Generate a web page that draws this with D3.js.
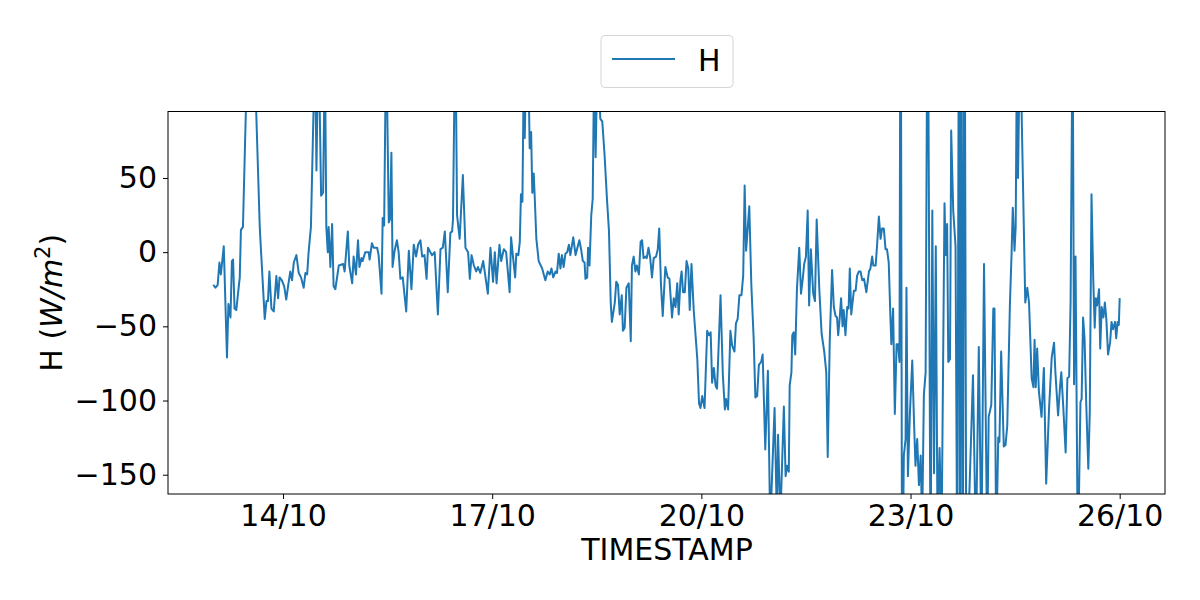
<!DOCTYPE html>
<html>
<head>
<meta charset="utf-8">
<script src="https://cdn.jsdelivr.net/npm/d3@7"></script>
<style>
  body { margin: 0; background: #fff; }
  text { font-family: "DejaVu Sans", sans-serif; fill: #000; }
</style>
</head>
<body>
<div id="chart"></div>
<script>
// hours since 13/10 00:00 and the H value read at that point (W/m2)
var hours = [0,0.7,1.5,2.1,2.6,3.6,4.7,5.2,5.9,6.4,6.8,7.3,7.9,9.1,9.5,10.2,12.8,16.0,17.7,18.3,18.8,19.3,20.0,20.8,21.7,22.3,22.8,23.6,
  24.4,25.1,25.8,26.5,27.1,27.7,28.6,29.4,30.2,31.1,31.7,32.3,32.8,33.6,35.0,35.5,36.2,37.1,37.8,38.4,38.9,39.4,39.7,40.3,40.9,41.4,42.0,43.2,
  44.7,45.2,46.3,46.8,47.8,48.3,49.1,49.8,50.3,51.0,51.4,52.3,53.5,53.8,54.6,55.2,56.4,56.9,57.9,58.3,58.8,59.5,60.4,60.8,61.3,61.7,62.4,
  63.2,63.8,64.4,65.2,66.4,67.3,68.2,69.0,69.8,70.5,71.3,71.9,72.7,73.4,73.9,74.7,75.3,76.2,77.3,78.2,79.0,79.7,80.7,81.6,82.2,82.5,83.3,
  83.9,84.8,85.9,86.8,87.7,88.3,88.9,89.7,90.5,91.1,91.9,92.9,94.5,95.4,96.3,96.9,97.5,98.5,99.1,100.0,100.8,102.0,102.5,103.2,103.9,104.3,
  105.0,105.5,105.9,106.4,106.9,107.2,107.8,108.5,108.9,109.4,109.8,110.3,110.6,111.2,112.0,113.2,114.3,115.1,115.8,116.4,117.0,117.8,
  118.3,118.9,119.5,120.0,120.6,121.2,121.8,122.4,122.9,123.9,124.7,125.2,126.0,126.6,127.2,127.8,128.1,128.7,129.0,129.5,130.1,130.6,
  131.1,131.6,132.3,133.2,133.9,134.7,135.5,136.2,136.8,137.2,138.2,138.7,139.3,139.9,140.6,141.0,141.6,142.2,143.0,143.7,144.1,144.7,
  145.3,145.8,146.5,147.1,147.6,148.1,148.8,149.2,149.8,150.4,151.0,151.6,152.4,153.0,153.5,154.1,154.7,155.6,156.4,157.0,157.9,158.5,
  159.1,159.7,160.2,160.8,161.2,161.7,162.3,162.9,163.5,164.0,164.6,165.4,166.6,167.2,167.7,168.3,169.1,170.0,170.6,171.2,171.7,172.3,
  172.9,173.4,174.6,175.4,176.1,176.5,177.2,178.0,178.6,179.4,179.9,180.5,181.1,181.8,182.4,182.9,183.4,184.1,184.5,185.2,186.0,186.6,
  187.2,187.8,188.6,189.1,190.0,190.9,191.7,193.2,194.0,194.4,195.2,196.4,197.0,197.5,198.1,198.4,199.0,199.3,199.8,200.3,200.9,201.7,
  202.3,202.9,203.4,204.0,204.6,205.1,205.7,206.5,207.1,207.7,208.6,209.4,210.3,211.0,211.5,212.2,213.0,213.6,214.2,214.7,215.1,215.6,
  216.1,216.6,217.0,217.6,218.2,218.7,219.1,219.6,220.5,221.1,221.6,222.2,222.8,223.4,224.0,224.8,225.7,226.2,226.8,227.2,228.0,228.5,
  229.1,229.7,230.2,230.8,231.4,231.9,232.5,233.1,233.4,234.0,234.6,235.2,235.7,236.2,236.6,237.1,237.7,238.3,238.6,239.1,239.8,240.6,
  241.2,241.7,242.3,242.9,243.5,244.0,244.6,245.2,245.9,246.9,247.5,248.1,248.7,249.3,250.0,250.7,251.7,252.1,252.6,253.0,253.6,254.0,
  254.7,255.5,256.1,256.7,257.1,257.5,258.0,258.6,259.2,261.5,262.5,263.5,264.4,265.3,266.4,266.9,267.8,268.5,268.9,269.5,270.2,270.6,
  271.2,272.1,272.7,273.3,274.2,274.8,275.2,275.8,276.2,276.6,277.0,277.7,279.5,280.2,280.8,281.7,282.3,282.7,283.1,283.6,284.2,285.1,
  285.9,286.7,287.7,288.6,289.4,289.9,290.8,291.5,291.9,292.6,293.4,294.0,294.6,295.1,295.8,296.3,296.8,297.6,298.5,298.9,299.4,299.9,
  300.5,301.2,301.7,302.3,302.9,303.4,303.8,304.2,304.9,305.3,305.8,306.4,306.9,307.4,308.0,308.7,309.2,309.7,310.4,310.8,311.3,311.7,312.0];

var hValues = [-22,-24,-22,-7,-15,4,-71,-35,-44,-6,-5,-38,-39,-17,15,17,220,16,-45,-33,-33,-13,-38,-40,-16,-31,-17,-19,
  -23,-32,-22,-13,-19,-7,-2,-14,-17,-24,-14,-15,0,17,140,55,150,38,40,140,17,0,17,-10,19,-23,-25,-9,
  -8,-13,14,-9,-21,-3,-15,8,-10,-4,-6,0,0,-5,6,3,3,-2,-28,23,18,150,20,22,67,-10,1,
  8,0,-18,-17,-40,1,-25,5,-3,5,8,-3,-2,-18,3,0,-2,0,-42,2,3,14,-27,13,14,22,160,
  25,9,52,3,0,-18,-2,-9,-13,-10,-14,-6,-28,3,-20,0,-21,5,-6,2,0,-27,10,-4,-17,-1,
  -2,7,39,34,130,77,140,120,70,81,40,53,39,9,-6,-11,-19,-13,-15,-11,-17,-13,
  -14,-1,-11,-2,-10,-1,0,5,-2,10,-2,2,8,2,-6,-7,-18,-17,3,-9,25,36,
  130,64,140,90,88,65,36,14,-34,-47,-34,-20,-22,-42,-29,-53,-51,-24,-21,-60,-9,-3,
  -13,-9,-15,7,8,-4,-3,-4,3,-4,-17,-4,-3,2,16,-22,-43,-10,-17,-18,-44,-31,
  -37,-21,-42,-19,-13,-27,-27,-6,-11,-39,-8,-40,-72,-102,-105,-97,-105,-53,-56,-54,-88,-78,
  -90,-92,-29,-83,-106,-99,-106,-53,-63,-67,-48,-45,-29,-29,-16,45,1,20,31,-22,-58,-98,
  -97,-76,-74,-69,-133,-80,-185,-105,-180,-123,-180,-104,-151,-144,-148,-90,-81,-56,-54,-69,-25,3,
  -28,-18,-8,-3,28,-36,2,-28,-33,22,-25,-55,-67,-81,-138,-59,-12,-37,-43,-44,-56,-45,
  -31,-50,-39,-56,-37,-38,-11,-42,-26,-26,-16,-13,-13,-19,-18,-27,-13,-11,-3,-9,-9,5,
  24,9,16,16,2,2,-7,-45,-62,-38,-109,-62,-62,-74,250,-250,-137,-126,-24,-151,-108,-73,
  -114,-144,-126,-157,-137,-185,-96,-81,220,-220,28,-149,4,-190,-132,-190,33,-2,19,-74,-72,82,
  28,4,-230,230,-230,230,-230,230,-230,-83,-200,-64,-200,-8,-200,-111,-103,-38,-38,-200,-125,-128,
  -67,-131,-130,-117,-36,0,30,1,17,130,50,150,-34,-24,-34,-85,-91,-59,-91,-65,-94,-111,
  -78,-156,-105,-71,-61,-82,-110,-90,-81,-105,-135,-85,-84,-34,160,-89,-3,-210,-101,-99,-44,-58,
  -103,-146,-108,39,-18,-51,-31,-36,-25,-65,-37,-44,-34,-45,-69,-61,-47,-52,-47,-58,-47,-49,-31];

var startLabel = "13/10/2019";
var tickLabels = ["14/10", "17/10", "20/10", "23/10", "26/10"];
var yTicks = [-150, -100, -50, 0, 50];
var seriesName = "H";

var width = 1200, height = 600,
    plot = {left: 168, right: 1165, top: 111.5, bottom: 494},
    fontSize = "30px";

var parseDay = d3.timeParse("%d/%m/%Y");
var start = parseDay(startLabel);
var data = hours.map(function(h, i) {
  return {t: d3.timeMinute.offset(start, Math.round(h * 60)), v: hValues[i]};
});
var tickDates = tickLabels.map(function(s) { return parseDay(s + "/2019"); });

// matplotlib style 5% margin on x
var t0 = data[0].t, t1 = data[data.length - 1].t, pad = (t1 - t0) * 0.05;
var x = d3.scaleTime()
    .domain([new Date(+t0 - pad), new Date(+t1 + pad)])
    .range([plot.left, plot.right]);
var y = d3.scaleLinear()
    .domain([-163, 94.8])
    .range([plot.bottom, plot.top]);

var svg = d3.select("#chart").append("svg")
    .attr("width", width)
    .attr("height", height);

svg.append("defs").append("clipPath")
    .attr("id", "clip")
  .append("rect")
    .attr("x", plot.left)
    .attr("y", plot.top)
    .attr("width", plot.right - plot.left)
    .attr("height", plot.bottom - plot.top);

var line = d3.line()
    .x(function(d) { return x(d.t); })
    .y(function(d) { return y(d.v); });

svg.append("path")
    .datum(data)
    .attr("clip-path", "url(#clip)")
    .attr("fill", "none")
    .attr("stroke", "#1f77b4")
    .attr("stroke-width", 2)
    .attr("stroke-linejoin", "round")
    .attr("d", line);

// axes
var xAxis = svg.append("g")
    .attr("transform", "translate(0," + plot.bottom + ")")
    .call(d3.axisBottom(x)
      .tickValues(tickDates)
      .tickFormat(function(d, i) { return tickLabels[i]; })
      .tickSize(5)
      .tickPadding(6));

var yAxis = svg.append("g")
    .attr("transform", "translate(" + plot.left + ",0)")
    .call(d3.axisLeft(y)
      .tickValues(yTicks)
      .tickSize(5)
      .tickPadding(6));

[xAxis, yAxis].forEach(function(g) {
  g.select(".domain").remove();
  g.selectAll(".tick line").attr("stroke", "#000").attr("stroke-width", 1);
  g.selectAll("text")
    .style("font-family", "DejaVu Sans, sans-serif")
    .style("font-size", fontSize)
    .attr("fill", "#000");
});

// frame
svg.append("rect")
    .attr("x", plot.left)
    .attr("y", plot.top)
    .attr("width", plot.right - plot.left)
    .attr("height", plot.bottom - plot.top)
    .attr("fill", "none")
    .attr("stroke", "#000")
    .attr("stroke-width", 1);

// axis labels
svg.append("text")
    .attr("x", 667)
    .attr("y", 560)
    .attr("text-anchor", "middle")
    .style("font-size", fontSize)
    .text("TIMESTAMP");

var ylab = svg.append("text")
    .attr("transform", "translate(62," + ((plot.top + plot.bottom) / 2) + ") rotate(-90)")
    .attr("text-anchor", "middle")
    .style("font-size", fontSize);
ylab.append("tspan").text("H (");
ylab.append("tspan").style("font-style", "italic").text("W/m");
ylab.append("tspan").attr("dy", -12).style("font-size", "21px").text("2");
ylab.append("tspan").attr("dy", 12).text(")");

// legend
var legend = svg.append("g").attr("class", "legend");
legend.append("rect")
    .attr("x", 601)
    .attr("y", 35.5)
    .attr("width", 132)
    .attr("height", 52)
    .attr("rx", 4)
    .attr("fill", "#fff")
    .attr("stroke", "#d5d5d5")
    .attr("stroke-width", 1);
legend.append("line")
    .attr("x1", 612)
    .attr("x2", 675)
    .attr("y1", 59)
    .attr("y2", 59)
    .attr("stroke", "#1f77b4")
    .attr("stroke-width", 2);
legend.append("text")
    .attr("x", 698)
    .attr("y", 70.5)
    .style("font-size", fontSize)
    .text(seriesName);
</script>
</body>
</html>
